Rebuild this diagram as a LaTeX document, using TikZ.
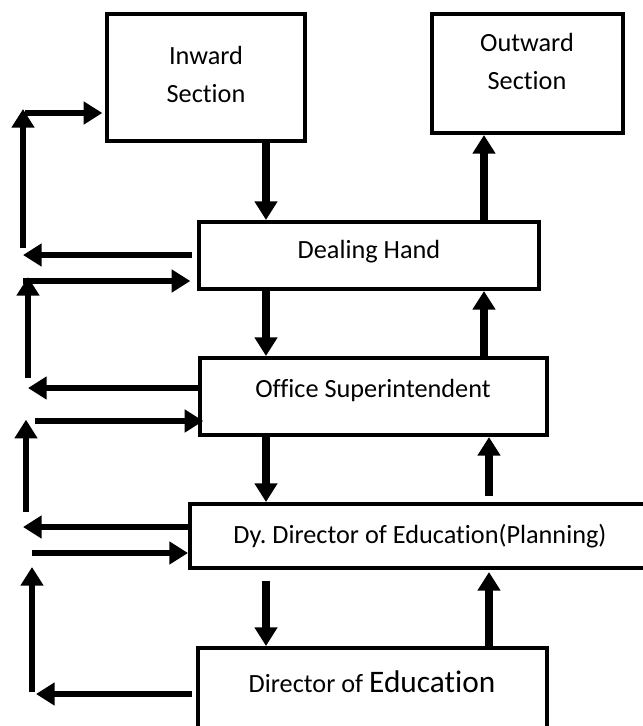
\documentclass[tikz,border=0pt]{standalone}
\usepackage{fontspec}
\setmainfont{Carlito}[Ligatures=NoCommon]
\frenchspacing
\usetikzlibrary{fit,arrows.meta}

\begin{document}
\begin{tikzpicture}[x=0.75pt, y=-0.75pt,
  box/.style={draw, line width=3pt, inner sep=0pt, fit={#1}},
  arr/.style={line width=5.4pt, -{Triangle[length=14pt,width=16.5pt]}},
  sidearr/.style={arr, line width=4.4pt},
  lbl/.style={font=\fontsize{19.7}{28}\selectfont, align=center, anchor=base, inner sep=0pt}]
  \useasboundingbox (0,0) rectangle (643,726);
  \clip (0,0) rectangle (643,726);

  % boxes
  \node[box={(107,14) (305,141)}] (inward) {};
  \node[box={(432,14) (623,133)}] (outward) {};
  \node[box={(199,222) (539,289)}] (deal) {};
  \node[box={(200,358) (547,435)}] (office) {};
  \node[box={(190,504) (670,568)}] (dydir) {};
  \node[box={(198,648) (547,740)}] (director) {};

  % base = last line for two-line labels
  \node[lbl] (inwardtxt) at (206,102) {Inward\\Section};
  \node[lbl] (outwardtxt) at (527,89) {Outward\\Section};
  \node[lbl] (dealtxt) at (369,258) {Dealing Hand};
  \node[lbl] (officetxt) at (373,397) {Office Superintendent};
  \node[lbl] (dydirtxt) at (420,543) {Dy. Director of Education(Planning)};
  \node[lbl] (directortxt) at (372,692) {Director of {\fontsize{23.5}{28}\selectfont Education}};

  % down the middle, up on the right
  \coordinate (dn) at (266,0);
  \coordinate (upa) at (484,0);
  \coordinate (upb) at (489,0);
  \draw[arr] (inward.south -| dn) -- (deal.north -| dn);
  \draw[arr] (deal.south -| dn) -- (office.north -| dn);
  \draw[arr] (office.south -| dn) -- (dydir.north -| dn);
  \draw[arr, shorten <=8pt] (dydir.south -| dn) -- (director.north -| dn);
  \draw[arr] (deal.north -| upa) -- (outward.south -| upa);
  \draw[arr] (office.north -| upa) -- (deal.south -| upa);
  \draw[arr, shorten <=4.5pt] (dydir.north -| upb) -- (office.south -| upb);
  \draw[arr, shorten >=1.5pt] (director.north -| upb) -- (dydir.south -| upb);

  % left side loops
  \coordinate (la) at (23,255);
  \coordinate (lb) at (28,388);
  \coordinate (lc) at (23,527);
  \coordinate (ld) at (36,694);
  \coordinate (ra) at (25,113);
  \coordinate (rb) at (23,281);
  \coordinate (rc) at (35,421);
  \coordinate (rd) at (32,553);
  \coordinate (ua) at (23,248);
  \coordinate (ub) at (28,378);
  \coordinate (uc) at (26,512);
  \coordinate (ud) at (32,692);

  \draw[sidearr, shorten <=4pt] (deal.west |- la) -- (la);
  \draw[sidearr] (office.west |- lb) -- (lb);
  \draw[sidearr] (dydir.west |- lc) -- (lc);
  \draw[sidearr, shorten <=3pt] (director.west |- ld) -- (ld);

  \draw[sidearr, shorten >=2pt] (ra) -- (inward.west |- ra);
  \draw[sidearr, shorten >=5pt] (rb) -- (deal.west |- rb);
  \draw[sidearr, shorten >=-4pt] (rc) -- (office.west |- rc);
  \draw[sidearr] (rd) -- (dydir.west |- rd);

  \draw[sidearr, shorten >=-3pt] (ua) -- (ua |- ra);
  \draw[sidearr, shorten >=-3pt] (ub) -- (ub |- rb);
  \draw[sidearr, shorten >=-1pt] (uc) -- (uc |- rc);
  \draw[sidearr, shorten >=10.5pt] (ud) -- (ud |- rd);
\end{tikzpicture}
\end{document}
